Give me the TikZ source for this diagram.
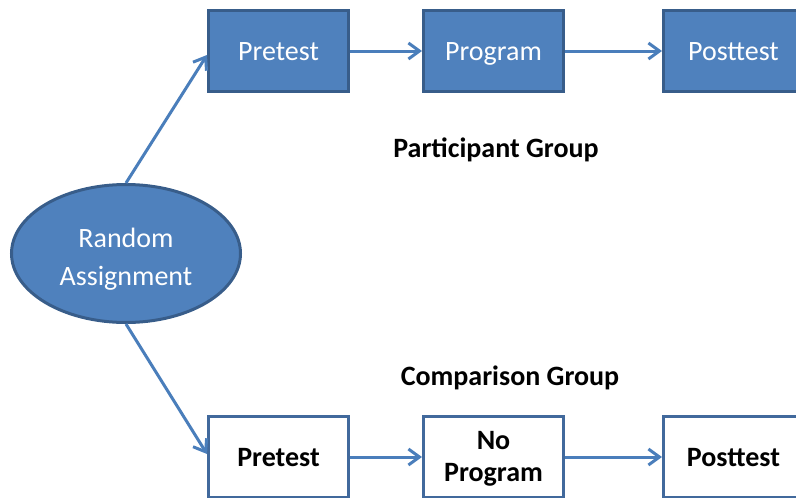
\documentclass[tikz,border=0pt]{standalone}
\usepackage{fontspec}
\setmainfont{Carlito}
\usetikzlibrary{arrows.meta,shapes.geometric}
\definecolor{fillblue}{HTML}{4F81BD}
\definecolor{edgeblue}{HTML}{385D8A}
\definecolor{edgeblue2}{HTML}{41699C}
\definecolor{arrowblue}{HTML}{4A7EBB}
\begin{document}
\begin{tikzpicture}[x=1pt,y=-1pt,
  filledbox/.style={draw=edgeblue, fill=fillblue, line width=3pt, minimum width=140pt, minimum height=81pt,
    inner sep=0pt, text=white, font=\fontsize{28}{33}\selectfont, text height=18pt, text depth=0pt},
  plainbox/.style={draw=edgeblue2, fill=white, line width=3pt, minimum width=140pt, minimum height=81pt,
    inner sep=0pt, text=black, font=\fontsize{28}{33}\selectfont\bfseries, text height=18pt, text depth=0pt},
  grouplabel/.style={font=\fontsize{28}{33}\selectfont\bfseries, text=black, anchor=base, inner sep=0pt},
  conn/.style={draw=arrowblue, line width=3pt, -{Straight Barb[length=11pt,width=16pt]}}
]
\useasboundingbox (0,0) rectangle (796,498);
\clip (0,0) rectangle (796,498);

% top row
\node[filledbox] (pre1) at (278.5,51) {Pretest};
\node[filledbox] (prog1) at (493.5,51) {Program};
\node[filledbox] (post1) at (733.5,51) {Posttest};

% bottom row
\node[plainbox] (pre2) at (278.5,457) {Pretest};
\node[plainbox] (prog2) at (493.5,457) {};
\node[font=\fontsize{28}{32.7}\selectfont\bfseries, align=center, anchor=base, inner sep=0pt] (prog2t) at (493.5,481.7) {No\\Program};
\node[plainbox] (post2) at (733.5,457) {Posttest};

% ellipse
\node[ellipse, draw=edgeblue, fill=fillblue, line width=3pt, minimum width=229pt, minimum height=138pt, inner sep=0pt] (ra) at (126,253.5) {};
\node[font=\fontsize{28}{37.4}\selectfont, text=white, align=center, anchor=base, inner sep=0pt] (rat) at (126,285) {Random\\Assignment};

% labels
\node[grouplabel] (pg) at (496,157) {Participant Group};
\node[grouplabel] (cg) at (510,385) {Comparison Group};

% connectors
\draw[conn] (ra.north) -- ([yshift=-4pt]pre1.west);
\draw[conn] (ra.south) -- ([yshift=3pt]pre2.west);
\draw[conn] (pre1) -- (prog1);
\draw[conn] (prog1) -- (post1);
\draw[conn] (pre2) -- (prog2);
\draw[conn] (prog2) -- (post2);
\end{tikzpicture}
\end{document}
